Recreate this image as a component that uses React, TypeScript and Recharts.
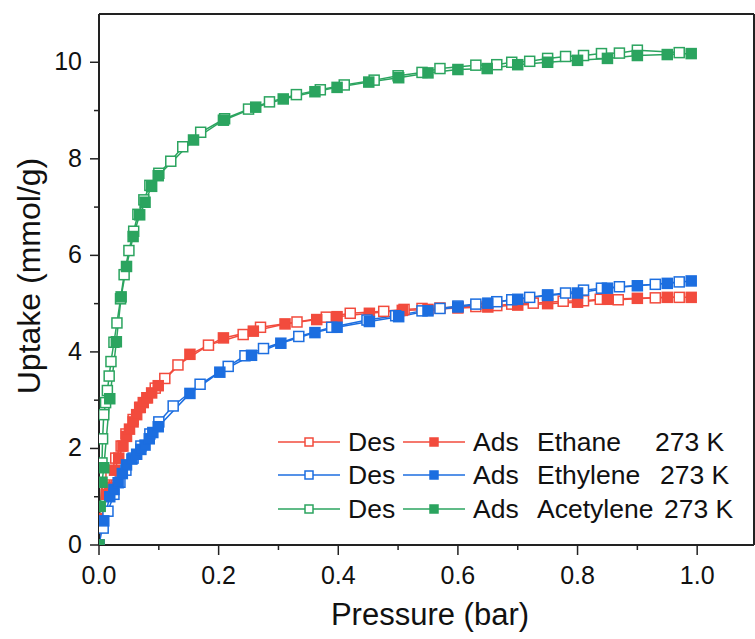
import { LineChart, Line, XAxis, YAxis, ReferenceLine } from 'recharts';

// [pressure (bar), uptake (mmol/g)]
const ethaneAds = [
  [0, 0], [0.005, 0.55], [0.012, 1.05], [0.018, 1.2], [0.026, 1.55], [0.033, 1.8], [0.04, 2.05],
  [0.046, 2.25], [0.051, 2.4], [0.057, 2.55], [0.063, 2.7], [0.069, 2.85], [0.074, 2.95],
  [0.081, 3.05], [0.088, 3.15], [0.099, 3.3], [0.152, 3.95], [0.208, 4.29], [0.258, 4.43],
  [0.311, 4.58], [0.364, 4.67], [0.398, 4.73], [0.452, 4.8], [0.507, 4.86], [0.55, 4.88],
  [0.6, 4.91], [0.65, 4.93], [0.7, 4.97], [0.75, 5.0], [0.8, 5.03], [0.85, 5.09], [0.9, 5.11],
  [0.95, 5.13], [0.99, 5.13],
];
const ethaneDes = [
  [0.97, 5.13], [0.93, 5.12], [0.868, 5.08], [0.838, 5.09], [0.81, 5.06], [0.776, 5.05],
  [0.726, 5.01], [0.69, 4.99], [0.665, 4.96], [0.63, 4.94], [0.6, 4.93], [0.57, 4.91],
  [0.54, 4.9], [0.51, 4.88], [0.476, 4.84], [0.42, 4.8], [0.38, 4.72], [0.331, 4.62],
  [0.27, 4.51], [0.241, 4.36], [0.183, 4.14], [0.132, 3.73], [0.11, 3.45], [0.094, 3.25],
  [0.08, 3.05], [0.068, 2.85], [0.057, 2.6], [0.045, 2.3], [0.037, 2.05], [0.028, 1.8],
  [0.02, 1.45], [0.014, 1.15],
];
const ethyleneAds = [
  [0, 0], [0.008, 0.5], [0.018, 1.0], [0.025, 1.15], [0.032, 1.29], [0.039, 1.48], [0.046, 1.66],
  [0.055, 1.78], [0.063, 1.88], [0.07, 1.98], [0.077, 2.07], [0.084, 2.2], [0.09, 2.33],
  [0.099, 2.45], [0.152, 3.14], [0.202, 3.58], [0.255, 3.93], [0.304, 4.18], [0.361, 4.4],
  [0.398, 4.51], [0.452, 4.63], [0.501, 4.73], [0.55, 4.85], [0.6, 4.93], [0.65, 5.01],
  [0.7, 5.09], [0.75, 5.17], [0.8, 5.22], [0.85, 5.32], [0.9, 5.37], [0.95, 5.42], [0.99, 5.47],
];
const ethyleneDes = [
  [0.97, 5.45], [0.93, 5.4], [0.87, 5.35], [0.84, 5.32], [0.81, 5.28], [0.78, 5.22], [0.75, 5.18],
  [0.72, 5.13], [0.69, 5.08], [0.665, 5.04], [0.63, 4.99], [0.6, 4.95], [0.57, 4.9], [0.54, 4.85],
  [0.496, 4.75], [0.448, 4.66], [0.389, 4.51], [0.334, 4.32], [0.275, 4.07], [0.244, 3.92],
  [0.216, 3.7], [0.169, 3.33], [0.124, 2.88], [0.1, 2.55], [0.085, 2.3], [0.07, 2.05],
  [0.057, 1.8], [0.045, 1.55], [0.035, 1.3], [0.025, 1.05], [0.015, 0.7], [0.007, 0.35],
];
const acetyleneAds = [
  [0, 0], [0.002, 0.8], [0.005, 1.3], [0.008, 1.6], [0.018, 3.03], [0.029, 4.21], [0.037, 5.14],
  [0.046, 5.77], [0.057, 6.39], [0.068, 6.84], [0.077, 7.1], [0.088, 7.43], [0.099, 7.65],
  [0.158, 8.39], [0.208, 8.8], [0.262, 9.07], [0.308, 9.24], [0.361, 9.39], [0.398, 9.48],
  [0.451, 9.59], [0.501, 9.68], [0.55, 9.78], [0.6, 9.85], [0.649, 9.87], [0.7, 9.95],
  [0.75, 10.0], [0.8, 10.04], [0.85, 10.08], [0.9, 10.14], [0.95, 10.16], [0.99, 10.18],
];
const acetyleneDes = [
  [0.97, 10.2], [0.9, 10.25], [0.87, 10.19], [0.84, 10.18], [0.81, 10.14], [0.78, 10.12],
  [0.75, 10.08], [0.72, 10.02], [0.69, 10.0], [0.665, 9.95], [0.63, 9.94], [0.57, 9.87],
  [0.54, 9.79], [0.5, 9.72], [0.46, 9.63], [0.41, 9.53], [0.37, 9.43], [0.33, 9.33],
  [0.285, 9.18], [0.25, 9.03], [0.21, 8.83], [0.17, 8.55], [0.14, 8.25], [0.12, 7.95],
  [0.1, 7.7], [0.085, 7.45], [0.075, 7.15], [0.065, 6.85], [0.058, 6.5], [0.05, 6.1],
  [0.042, 5.6], [0.036, 5.1], [0.03, 4.6], [0.025, 4.2], [0.02, 3.8], [0.017, 3.5],
  [0.014, 3.2], [0.011, 2.95], [0.008, 2.7], [0.006, 2.2], [0.005, 1.7],
];

const xTicks = [0, 0.1, 0.2, 0.3, 0.4, 0.5, 0.6, 0.7, 0.8, 0.9, 1.0];
const yTicks = [0, 1, 2, 3, 4, 5, 6, 7, 8, 9, 10];
const gases = ['Ethane', 'Ethylene', 'Acetylene'];
const tempLabel = '273 K';

const RED = '#f24b3d';
const BLUE = '#1c6ee0';
const GREEN = '#2ba45f';
const AXIS = '#222';
const FONT = '"Liberation Sans", Arial, sans-serif';

const toPts = (arr: number[][]) => arr.map(([p, u]) => ({ p, u }));

const square = (color: string, filled: boolean, size = 10) => (props: any) => {
  const { cx, cy, index } = props;
  if (cx == null || cy == null) return <g key={`n-${index}`} />;
  return (
    <rect
      key={`d-${index}`}
      x={cx - size / 2}
      y={cy - size / 2}
      width={size}
      height={size}
      fill={filled ? color : '#fff'}
      stroke={color}
      strokeWidth={1.5}
    />
  );
};

function XTick({ x, y, payload }: any) {
  const v = payload.value;
  const major = Math.round(v * 10) % 2 === 0;
  return (
    <g>
      <line x1={x} x2={x} y1={y} y2={y + (major ? 10 : 5)} stroke={AXIS} strokeWidth={1.5} />
      {major && (
        <text x={x} y={y + 39} textAnchor="middle" fontSize={25} fontFamily={FONT} fill="#111">
          {v.toFixed(1)}
        </text>
      )}
    </g>
  );
}

function YTick({ x, y, payload }: any) {
  const v = payload.value;
  const major = v % 2 === 0;
  return (
    <g>
      <line x1={x} x2={x - (major ? 9 : 5)} y1={y} y2={y} stroke={AXIS} strokeWidth={1.5} />
      {major && (
        <text x={x - 17} y={y + 8} textAnchor="end" fontSize={25} fontFamily={FONT} fill="#111">
          {v}
        </text>
      )}
    </g>
  );
}

const series = [
  { name: 'ethaneDes', data: toPts(ethaneDes), color: RED, filled: false },
  { name: 'ethaneAds', data: toPts(ethaneAds), color: RED, filled: true },
  { name: 'ethyleneDes', data: toPts(ethyleneDes), color: BLUE, filled: false },
  { name: 'ethyleneAds', data: toPts(ethyleneAds), color: BLUE, filled: true },
  { name: 'acetyleneDes', data: toPts(acetyleneDes), color: GREEN, filled: false },
  { name: 'acetyleneAds', data: toPts(acetyleneAds), color: GREEN, filled: true },
];

function LegendBox() {
  const colors = [RED, BLUE, GREEN];
  const rows = [442, 475, 509];
  const tempX = [655, 660, 664];
  return (
    <svg width={755} height={639} style={{ position: 'absolute', left: 0, top: 0, pointerEvents: 'none' }}>
      {gases.map((g, i) => {
        const cy = rows[i];
        const c = colors[i];
        return (
          <g key={g} fontFamily={FONT} fontSize={26.5} fill="#111">
            <line x1={278} x2={340} y1={cy} y2={cy} stroke={c} strokeWidth={1.5} />
            <rect x={305} y={cy - 4} width={8} height={8} fill="#fff" stroke={c} strokeWidth={1.5} />
            <text x={348} y={cy + 9}>Des</text>
            <line x1={403} x2={465} y1={cy} y2={cy} stroke={c} strokeWidth={1.5} />
            <rect x={430} y={cy - 4} width={8} height={8} fill={c} stroke={c} strokeWidth={1.5} />
            <text x={473} y={cy + 9}>Ads</text>
            <text x={537} y={cy + 9}>{g}</text>
            <text x={tempX[i]} y={cy + 9}>{tempLabel}</text>
          </g>
        );
      })}
    </svg>
  );
}

export default function App() {
  return (
    <div style={{ position: 'absolute', left: 0, top: 0, width: 755, height: 639, background: '#fff' }}>
      <LineChart width={755} height={639} margin={{ top: 14, right: 1, bottom: 0, left: 0 }}>
        <XAxis
          type="number"
          dataKey="p"
          domain={[0, 1.095]}
          ticks={xTicks}
          allowDataOverflow
          height={94}
          tickSize={0}
          tickMargin={0}
          tick={<XTick />}
          axisLine={{ stroke: AXIS, strokeWidth: 2 }}
          label={{
            content: () => (
              <text x={430} y={625} textAnchor="middle" fontSize={31} fontFamily={FONT} fill="#111">
                Pressure (bar)
              </text>
            ),
          }}
        />
        <YAxis
          type="number"
          dataKey="u"
          domain={[0, 11]}
          ticks={yTicks}
          allowDataOverflow
          width={99}
          tickSize={0}
          tickMargin={0}
          tick={<YTick />}
          axisLine={{ stroke: AXIS, strokeWidth: 2 }}
          label={{
            content: () => (
              <text
                x={0}
                y={0}
                transform="translate(40 276) rotate(-90)"
                textAnchor="middle"
                fontSize={32}
                fontFamily={FONT}
                fill="#111"
              >
                Uptake (mmol/g)
              </text>
            ),
          }}
        />
        <ReferenceLine y={11} stroke={AXIS} strokeWidth={2} />
        <ReferenceLine x={1.095} stroke={AXIS} strokeWidth={2} />
        {series.map((s) => (
          <Line
            key={s.name}
            data={s.data}
            dataKey="u"
            type="linear"
            stroke={s.color}
            strokeWidth={1.5}
            dot={square(s.color, s.filled)}
            activeDot={false}
            isAnimationActive={false}
          />
        ))}
      </LineChart>
      <LegendBox />
    </div>
  );
}
